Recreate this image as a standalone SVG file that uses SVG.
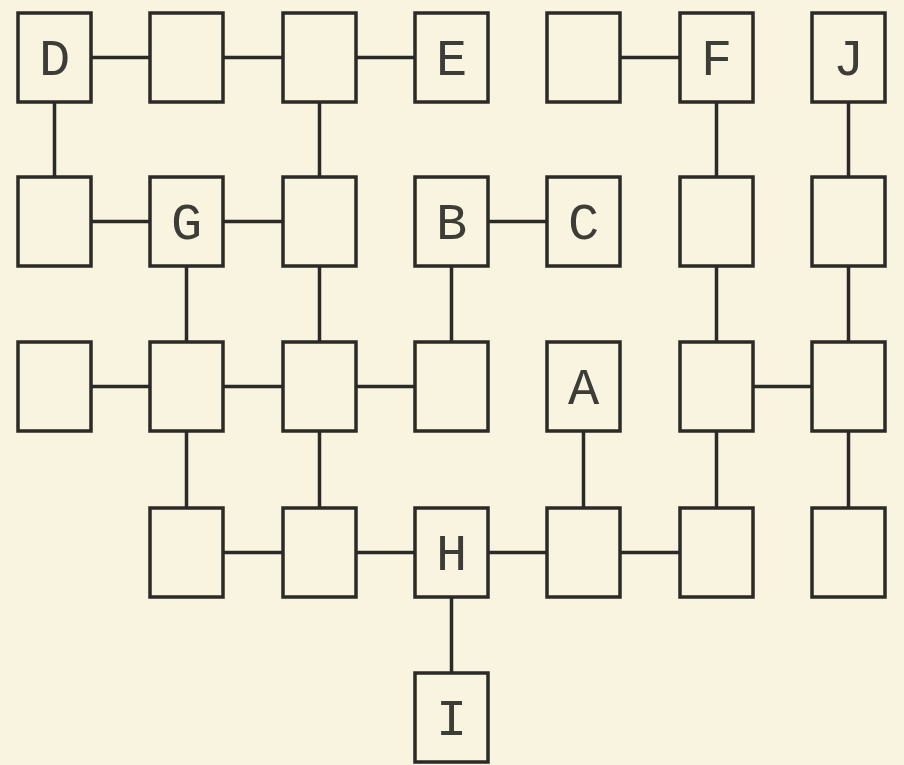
<svg xmlns="http://www.w3.org/2000/svg" width="904" height="765" viewBox="0 0 904 765">
<style>
.box{fill:none;stroke:#2b2a26;stroke-width:3.5}
.ln{stroke:#2b2a26;stroke-width:3.5;fill:none}
.lbl{font-family:"Liberation Mono","DejaVu Sans Mono",monospace;font-size:52px;fill:#3d3c37;text-anchor:middle}
</style>
<rect width="904" height="765" fill="#f9f4e0"/>
<g id="connectors">
<line class="ln" x1="91" y1="57.5" x2="150" y2="57.5"/>
<line class="ln" x1="223" y1="57.5" x2="283" y2="57.5"/>
<line class="ln" x1="356" y1="57.5" x2="415" y2="57.5"/>
<line class="ln" x1="620" y1="57.5" x2="680" y2="57.5"/>
<line class="ln" x1="54.5" y1="102" x2="54.5" y2="177"/>
<line class="ln" x1="319.5" y1="102" x2="319.5" y2="177"/>
<line class="ln" x1="716.5" y1="102" x2="716.5" y2="177"/>
<line class="ln" x1="848.5" y1="102" x2="848.5" y2="177"/>
<line class="ln" x1="91" y1="221.5" x2="150" y2="221.5"/>
<line class="ln" x1="223" y1="221.5" x2="283" y2="221.5"/>
<line class="ln" x1="488" y1="221.5" x2="547" y2="221.5"/>
<line class="ln" x1="186.5" y1="266" x2="186.5" y2="342"/>
<line class="ln" x1="319.5" y1="266" x2="319.5" y2="342"/>
<line class="ln" x1="451.5" y1="266" x2="451.5" y2="342"/>
<line class="ln" x1="716.5" y1="266" x2="716.5" y2="342"/>
<line class="ln" x1="848.5" y1="266" x2="848.5" y2="342"/>
<line class="ln" x1="91" y1="386.5" x2="150" y2="386.5"/>
<line class="ln" x1="223" y1="386.5" x2="283" y2="386.5"/>
<line class="ln" x1="356" y1="386.5" x2="415" y2="386.5"/>
<line class="ln" x1="753" y1="386.5" x2="812" y2="386.5"/>
<line class="ln" x1="186.5" y1="431" x2="186.5" y2="508"/>
<line class="ln" x1="319.5" y1="431" x2="319.5" y2="508"/>
<line class="ln" x1="583.5" y1="431" x2="583.5" y2="508"/>
<line class="ln" x1="716.5" y1="431" x2="716.5" y2="508"/>
<line class="ln" x1="848.5" y1="431" x2="848.5" y2="508"/>
<line class="ln" x1="223" y1="552.5" x2="283" y2="552.5"/>
<line class="ln" x1="356" y1="552.5" x2="415" y2="552.5"/>
<line class="ln" x1="488" y1="552.5" x2="547" y2="552.5"/>
<line class="ln" x1="620" y1="552.5" x2="680" y2="552.5"/>
<line class="ln" x1="451.5" y1="597" x2="451.5" y2="673"/>
</g>
<g id="D"><rect class="box" x="18" y="13" width="73" height="89"/><text class="lbl" x="54.5" y="75">D</text></g>
<g id="n01"><rect class="box" x="150" y="13" width="73" height="89"/></g>
<g id="n02"><rect class="box" x="283" y="13" width="73" height="89"/></g>
<g id="E"><rect class="box" x="415" y="13" width="73" height="89"/><text class="lbl" x="451.5" y="75">E</text></g>
<g id="n04"><rect class="box" x="547" y="13" width="73" height="89"/></g>
<g id="F"><rect class="box" x="680" y="13" width="73" height="89"/><text class="lbl" x="716.5" y="75">F</text></g>
<g id="J"><rect class="box" x="812" y="13" width="73" height="89"/><text class="lbl" x="848.5" y="75">J</text></g>
<g id="n10"><rect class="box" x="18" y="177" width="73" height="89"/></g>
<g id="G"><rect class="box" x="150" y="177" width="73" height="89"/><text class="lbl" x="186.5" y="239">G</text></g>
<g id="n12"><rect class="box" x="283" y="177" width="73" height="89"/></g>
<g id="B"><rect class="box" x="415" y="177" width="73" height="89"/><text class="lbl" x="451.5" y="239">B</text></g>
<g id="C"><rect class="box" x="547" y="177" width="73" height="89"/><text class="lbl" x="583.5" y="239">C</text></g>
<g id="n15"><rect class="box" x="680" y="177" width="73" height="89"/></g>
<g id="n16"><rect class="box" x="812" y="177" width="73" height="89"/></g>
<g id="n20"><rect class="box" x="18" y="342" width="73" height="89"/></g>
<g id="n21"><rect class="box" x="150" y="342" width="73" height="89"/></g>
<g id="n22"><rect class="box" x="283" y="342" width="73" height="89"/></g>
<g id="n23"><rect class="box" x="415" y="342" width="73" height="89"/></g>
<g id="A"><rect class="box" x="547" y="342" width="73" height="89"/><text class="lbl" x="583.5" y="404">A</text></g>
<g id="n25"><rect class="box" x="680" y="342" width="73" height="89"/></g>
<g id="n26"><rect class="box" x="812" y="342" width="73" height="89"/></g>
<g id="n31"><rect class="box" x="150" y="508" width="73" height="89"/></g>
<g id="n32"><rect class="box" x="283" y="508" width="73" height="89"/></g>
<g id="H"><rect class="box" x="415" y="508" width="73" height="89"/><text class="lbl" x="451.5" y="570">H</text></g>
<g id="n34"><rect class="box" x="547" y="508" width="73" height="89"/></g>
<g id="n35"><rect class="box" x="680" y="508" width="73" height="89"/></g>
<g id="n36"><rect class="box" x="812" y="508" width="73" height="89"/></g>
<g id="I"><rect class="box" x="415" y="673" width="73" height="89"/><text class="lbl" x="451.5" y="735">I</text></g>
</svg>
